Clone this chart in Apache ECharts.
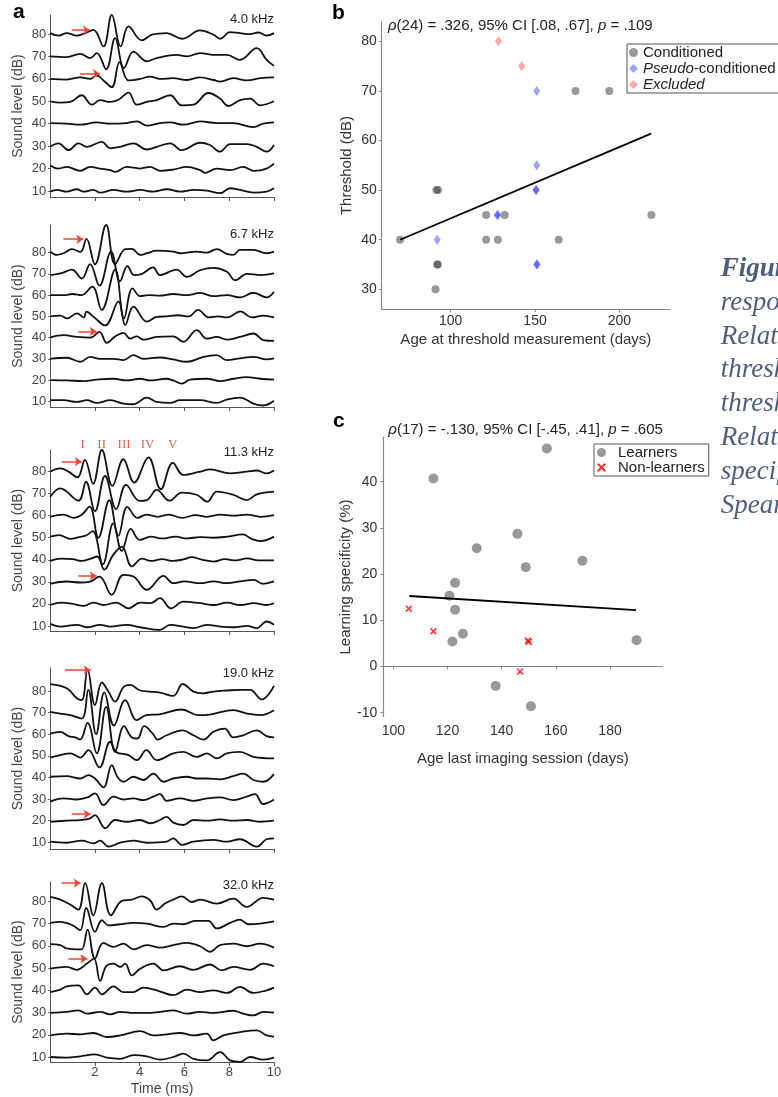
<!DOCTYPE html>
<html><head><meta charset="utf-8">
<script src="https://cdn.jsdelivr.net/npm/echarts@6/dist/echarts.min.js"></script>
<style>html,body{margin:0;padding:0;background:#fff;overflow:hidden}#c{width:778px;height:1097px}</style>
</head><body><div id="c"></div>
<script>
// ---------- Panel a data ----------
const levels = [80, 70, 60, 50, 40, 30, 20, 10];
const levelTicks = [10, 20, 30, 40, 50, 60, 70, 80];
const timeTicks = [2, 4, 6, 8, 10];
const freqLabels = ['4.0 kHz', '6.7 kHz', '11.3 kHz', '19.0 kHz', '32.0 kHz'];
// each trace: [time ms, deviation dB from its level]
const abr4k = [
 [[0,0.4],[0.37,-0.7],[0.74,0.4],[1.19,-0.7],[1.56,0.4],[1.93,1.9],[2.38,-5.5],[2.75,8.6],[3.15,-5.5],[3.5,3.4],[4.09,-2.8],[4.55,-0.3],[5.2,0.4],[5.9,-2.1],[6.7,1.6],[7.3,-0.3],[7.6,-2.1],[8.03,0.9],[8.48,0.4],[8.93,0],[9.3,0.7],[9.67,-0.7],[10,0.4]],
 [[0,0],[0.74,-0.3],[1.34,1.2],[1.79,-0.7],[2.08,1.5],[2.5,-5.7],[2.9,8.2],[3.3,-5.2],[3.72,2.2],[4.32,-2.2],[4.76,-0.7],[5.65,0.7],[6.1,0],[6.7,1.5],[7.3,0.7],[7.89,0.7],[8.48,-1.5],[9.23,3.7],[9.67,-1.5],[10,-4.2]],
 [[0,0],[0.74,-0.3],[1.34,0.7],[1.79,0],[2.08,1.5],[2.38,-0.7],[2.75,-3.7],[3.1,7.5],[3.5,-0.7],[4.02,0],[4.46,1],[4.91,0],[5.5,0.3],[6.1,-0.5],[6.7,0.7],[7.3,-0.5],[7.6,-1.2],[8.18,0.3],[8.78,-0.7],[9.38,0.3],[10,0.7]],
 [[0,0],[0.45,-0.6],[0.89,-0.3],[1.41,2.7],[1.86,-1.5],[2.23,0.5],[2.68,-0.3],[3.05,0.7],[3.5,3.9],[3.87,-1.5],[4.32,-0.3],[4.76,0.5],[5.36,2.7],[5.88,-1.8],[6.4,-1.5],[7.07,3.7],[7.59,1.2],[7.96,-2.1],[8.48,0.5],[8.93,1.2],[9.38,-1.8],[10,0]],
 [[0,0.3],[0.74,0],[1.34,-0.45],[2.08,0.6],[2.68,0],[3.42,0.3],[3.87,1],[4.32,-0.9],[4.91,0.3],[5.36,0.6],[5.95,-0.45],[6.7,1],[7.44,0.3],[8.18,0.3],[9.08,-1.5],[9.52,0],[10,0.6]],
 [[0,-0.3],[0.37,1.2],[0.82,-1.8],[1.26,1.2],[1.64,-0.3],[2.31,1.9],[2.68,-1],[3.13,-0.3],[3.72,1.2],[4.32,-1.5],[4.76,-0.3],[5.36,1.2],[5.88,-1.8],[6.7,1.5],[7.14,0.5],[7.59,-2.5],[8.04,0.9],[8.78,0.9],[9.23,-0.3],[9.67,-2.5],[10,0.5]],
 [[0,1.5],[0.37,0],[0.74,0.7],[1.34,-1],[1.79,0.7],[2.23,0],[2.68,-0.7],[2.9,-1.5],[3.42,0.7],[4.02,0],[4.46,0.7],[4.91,-1],[5.5,-0.45],[6.1,0.7],[6.7,-0.7],[6.92,-1.9],[7.44,0],[8.04,-0.7],[8.63,0.7],[9.08,-1],[9.67,0],[10,2.2]],
 [[0,-0.3],[0.3,0.45],[0.74,-0.3],[1.19,0.75],[1.49,-0.3],[1.93,0.45],[2.23,-0.75],[2.83,0.45],[3.42,-0.3],[4.02,0.45],[4.61,-0.3],[5.21,0.75],[5.8,-0.3],[6.4,0.45],[7.0,0.15],[7.59,-1],[8.04,1.2],[8.48,0.45],[9.08,-0.75],[9.67,-0.3],[10,1.2]]
];
const abr6k = [
 [[0,0.5],[0.3,-1.1],[0.6,-0.3],[0.97,1.6],[1.35,0.3],[1.62,6.5],[2.0,-5.5],[2.5,13],[2.9,-5.5],[3.35,1.6],[3.65,1.8],[4.02,-1.1],[4.32,-0.3],[4.76,0.9],[5.5,0.5],[5.8,-0.3],[6.55,0.5],[6.99,0],[7.44,1.6],[7.89,-0.6],[8.18,-1.1],[8.48,1.3],[9.08,1.3],[9.67,-0.3],[10,0.5]],
 [[0,-0.6],[0.55,0.5],[0.97,2],[1.41,-2.2],[1.78,4.6],[2.2,-5.5],[2.72,10.5],[3.12,-3.5],[3.45,3.6],[3.75,-0.6],[4.1,0],[4.6,3],[4.9,-0.6],[5.65,2],[6.1,-1.4],[6.7,1.7],[7.3,2.8],[7.9,1],[8.26,-3],[8.8,0],[9.4,-0.6],[10,0.2]],
 [[0,0],[0.6,0],[1.0,0.5],[1.4,0],[1.88,4],[2.3,-7],[2.9,12],[3.3,-11],[3.68,3.2],[4.02,-0.5],[4.4,0],[4.9,-0.3],[5.5,0.5],[6.1,0],[6.7,1],[7.3,-0.5],[7.9,0],[8.5,-1.1],[9.08,1.1],[9.67,-1.1],[10,1.6]],
 [[0,0],[0.45,0.3],[0.75,-1],[1.2,1.4],[1.5,-0.5],[1.62,2.2],[1.95,-0.3],[2.45,-4.3],[3.05,6.9],[3.35,-4.1],[3.72,4.6],[4.32,-2.5],[4.76,-0.3],[5.2,0],[5.7,0.5],[6.2,0],[6.6,3],[7.1,-0.5],[7.5,0],[7.9,-0.5],[8.5,2.3],[9.0,-0.5],[9.5,0.3],[10,-0.5]],
 [[0,0],[0.6,1.1],[1.2,0.3],[1.8,0],[2.2,2.7],[2.53,-2.5],[2.9,0.5],[3.27,2.2],[3.57,-0.5],[3.87,0.6],[4.17,-1],[4.76,0.3],[5.5,0.6],[5.95,-2],[6.55,3.5],[7.0,-0.5],[7.44,0.3],[7.89,-1],[8.48,0.3],[9.08,1.9],[9.52,-1.2],[10,-1.6]],
 [[0,0],[0.74,0.5],[1.34,-1.4],[1.79,0.9],[2.23,0],[2.83,0],[3.27,-0.6],[3.72,1.7],[4.17,0],[4.91,0.6],[5.5,-0.3],[6.1,-1.4],[6.85,0.9],[7.44,1.7],[7.89,-0.6],[8.48,0.2],[9.08,0.9],[9.67,-0.3],[10,0.2]],
 [[0,0],[0.74,-0.2],[1.49,-0.5],[2.08,0.2],[2.83,0.6],[3.42,-0.2],[4.02,0.6],[4.46,-0.2],[5.2,0.6],[5.5,-0.2],[5.88,-1.7],[6.25,0.2],[7.0,0.6],[7.59,-0.5],[8.18,0.6],[8.78,1.4],[9.38,0.6],[10,0.2]],
 [[0,0.5],[0.6,0.5],[1.19,-0.3],[1.64,0.5],[2.08,-0.8],[2.68,0.5],[3.27,-1.1],[3.72,-1.4],[4.32,1.7],[4.76,-0.3],[5.36,-0.8],[5.8,0.5],[6.7,0.5],[7.44,-0.8],[7.89,0.8],[8.48,1.7],[9.08,-1.1],[9.52,-2],[10,0.2]]
];
const abr11k = [
 [[0,0],[0.45,1.5],[0.82,0],[1.22,-2.6],[1.55,5.3],[1.92,-5.5],[2.31,9.8],[2.78,-6.5],[3.27,5.6],[3.75,-5],[4.39,6.5],[4.94,-8],[5.48,4],[5.95,-1.5],[6.7,0],[7.14,1],[8.04,-0.8],[8.78,0],[9.23,0.5],[9.67,-0.8],[10,0.5]],
 [[0,-1.4],[0.45,2.4],[1.26,-3.2],[1.6,5.4],[2.0,-8],[2.45,8],[2.95,-7],[3.39,4],[3.99,-3.3],[4.32,-2.9],[4.76,1.7],[5.33,-3.2],[5.88,0.5],[6.55,-0.5],[7.02,-3.6],[7.44,0.9],[8.18,-0.5],[8.78,-2.9],[9.23,-0.3],[10,0.9]],
 [[0,-0.5],[0.6,0.5],[1.05,-1],[1.4,0.3],[1.76,4.1],[2.15,-10],[2.64,7],[3.05,-9],[3.45,4],[3.9,-1],[4.3,0.5],[4.8,-0.5],[5.3,0.5],[5.9,-1],[6.5,0.3],[7.0,-0.5],[7.6,0.5],[8.2,0],[8.8,0.5],[9.4,-0.5],[10,0.3]],
 [[0,0.5],[0.4,1.2],[0.9,-0.5],[1.3,0.3],[1.6,1],[1.9,3],[2.35,-12],[2.82,6.5],[3.2,-6],[3.6,4],[4.0,-1],[4.5,0.5],[5.0,-0.3],[5.6,0.5],[6.1,-0.3],[6.7,0.3],[7.3,0],[7.9,0.5],[8.6,1.5],[9.0,-0.5],[9.4,-1.5],[10,0.5]],
 [[0,-0.5],[0.5,0.5],[1.0,0.3],[1.4,-0.5],[1.8,0.5],[2.1,1.5],[2.42,-4.5],[2.8,2],[3.2,6],[3.65,-3],[4.1,0.5],[4.5,-0.5],[5.0,0.3],[5.5,-0.5],[6.0,0.3],[6.3,1.2],[6.8,0],[7.3,-0.8],[7.8,0.3],[8.3,-0.3],[8.8,0.6],[9.3,-0.3],[10,-0.3]],
 [[0,-0.9],[0.74,0.15],[1.34,-0.3],[1.79,0.15],[2.2,2.4],[2.75,-5.9],[3.27,3.2],[3.72,2.4],[4.32,-3.6],[5.06,2.7],[5.5,-0.6],[6.0,0.2],[6.7,-0.6],[7.3,0.2],[7.9,-0.6],[8.5,0.2],[9.1,0.9],[9.5,-0.9],[10,0.2]],
 [[0,-0.5],[0.5,0.6],[1.0,0],[1.49,-0.9],[1.93,0.6],[2.38,-0.5],[2.96,0.6],[3.5,-2],[4.02,0.6],[4.5,0.3],[4.9,2.6],[5.4,-2],[5.95,1],[6.7,0.3],[7.3,-0.5],[7.9,0.6],[8.5,-0.5],[9.1,0.3],[9.67,-0.5],[10,0.3]],
 [[0,0.9],[0.45,-0.3],[1.2,0.5],[1.64,-0.6],[2.23,0.5],[2.68,-0.3],[3.42,0.5],[4.02,-0.6],[4.9,-1.8],[5.36,0.5],[5.95,-0.3],[6.4,-1],[7.0,0.5],[7.6,-0.3],[8.2,-0.6],[8.8,0],[9.23,-1],[9.67,2],[10,0.5]]
];
const abr19k = [
 [[0,3.1],[0.74,1.2],[1.19,-3.4],[1.41,-4.2],[1.67,10],[2.0,-6.5],[2.31,3.9],[2.6,-0.3],[2.9,-4.9],[3.27,1.7],[3.57,2.8],[4.02,0.2],[4.46,-0.3],[4.91,-0.8],[5.5,-2.3],[5.92,3.2],[6.4,-0.3],[6.85,-1.1],[7.29,-0.3],[7.89,0.2],[8.48,0.5],[8.93,0.5],[9.45,-3.9],[10,2.3]],
 [[0,0.3],[0.45,-0.5],[0.9,-1.2],[1.41,-2.8],[1.7,10.5],[2.05,-10],[2.42,9.3],[2.85,-6],[3.35,5.7],[3.87,-3.5],[4.3,-1.2],[4.9,-0.8],[5.88,1.4],[6.6,-1.2],[7.2,-0.8],[8.18,1.1],[8.8,-0.5],[9.4,-1.2],[10,1.1]],
 [[0,0.3],[0.45,1.1],[0.82,-0.9],[1.12,-1.5],[1.34,-2.5],[1.67,5.2],[2.08,-8.9],[2.5,12.6],[2.9,-8.2],[3.3,3.7],[3.65,-1.5],[3.9,-2],[4.2,3.7],[4.6,0],[4.8,-2.5],[5.2,-0.5],[5.92,1.8],[6.4,-0.5],[6.85,-2.5],[7.29,1.1],[7.8,2.6],[8.18,-1.5],[8.63,-0.5],[9.23,1.8],[9.67,-0.9],[10,-1.5]],
 [[0,-0.8],[0.45,0.3],[0.9,1.1],[1.34,-0.8],[1.71,2.6],[2.2,-5.4],[2.68,6.5],[2.95,1.8],[3.5,0.3],[3.87,-2],[4.3,2.6],[4.76,-2],[5.5,1.1],[5.95,1.8],[6.55,-0.5],[7.0,1.1],[7.44,-1.2],[7.89,1.1],[8.48,1.8],[9.08,-0.5],[10,-1.2]],
 [[0,0.3],[0.74,0.6],[1.34,-0.5],[1.71,1.1],[2.0,-0.5],[2.38,-4.6],[2.75,5.7],[3.0,0.3],[3.27,-2],[3.72,0.3],[4.17,-1.2],[4.61,1.8],[5.06,-2],[5.5,-0.5],[6.1,0.3],[6.55,-0.5],[7.0,-0.5],[7.59,-0.9],[8.18,0.6],[8.63,1.8],[9.08,-1.2],[9.52,-2],[10,1.5]],
 [[0,-1.2],[0.6,0.3],[1.19,-0.2],[1.67,0.8],[2.0,2.6],[2.38,-2.8],[2.83,1.1],[3.27,-0.2],[3.72,0.3],[4.17,-0.5],[4.6,1.1],[4.91,2.3],[5.2,-0.8],[5.8,0.3],[6.4,-0.8],[7.0,0.3],[7.59,0.8],[8.18,-0.5],[8.78,1.1],[9.15,2.3],[9.52,-2.3],[10,-0.2]],
 [[0,-0.5],[0.74,0],[1.34,0.3],[1.79,1.1],[2.0,2.6],[2.46,-3.5],[2.9,0.3],[3.42,-0.5],[4.02,0.3],[4.46,-1.2],[4.91,0.3],[5.2,1.8],[5.5,-0.9],[5.95,-2],[6.4,0.3],[7.0,0],[7.59,0.6],[8.18,0],[8.78,0.3],[9.38,-0.5],[10,0]],
 [[0,0.3],[0.74,-0.2],[1.41,0.8],[1.93,-0.5],[2.23,0.8],[2.6,-2],[3.13,-0.2],[3.72,0.8],[4.32,-0.2],[5.2,0.3],[5.5,1.8],[5.88,-1.2],[6.4,0.3],[7.29,1.1],[7.89,0.3],[8.48,1.4],[9.23,-2],[9.67,1.4],[10,1.8]]
];
const abr32k = [
 [[0,2],[0.45,0.8],[0.89,-1.4],[1.26,-3.7],[1.56,8.2],[1.93,-6.3],[2.31,8.2],[2.71,-6.3],[3.2,0.2],[3.65,0.8],[4.09,2.2],[4.46,0.5],[4.76,-3.7],[5.13,-1],[5.5,0.8],[5.88,2.2],[6.32,-0.3],[6.7,0.8],[7.44,-1],[8.18,1.2],[8.78,-2.5],[9.52,1.6],[10,0.8]],
 [[0,0.3],[0.45,0.8],[0.89,-0.3],[1.12,-1.5],[1.34,-3],[1.61,7],[2.0,-3.7],[2.31,1.5],[2.6,-0.8],[3.13,-0.3],[3.72,0.3],[4.32,0],[5.06,-1.5],[5.5,0],[5.95,-0.3],[6.47,1.2],[7.07,1.2],[7.44,-2.2],[8.04,0.3],[8.48,1.8],[8.85,-0.3],[9.38,0],[10,1]],
 [[0,0.8],[0.45,0.3],[0.74,-1.2],[1.19,-1.6],[1.41,-1.6],[1.67,7.3],[2.0,-5.7],[2.38,1.3],[2.83,-0.5],[3.27,1],[3.72,-1.6],[4.32,0.3],[4.91,-0.8],[5.5,0.3],[6.1,1.3],[6.7,-0.2],[7.14,-2.7],[7.59,0.3],[8.18,1],[8.78,-0.2],[9.38,1],[10,-0.8]],
 [[0,-0.3],[0.74,0.5],[1.19,-0.8],[1.64,2],[1.95,4.2],[2.23,-5.8],[2.5,0.8],[2.83,2],[3.13,0.5],[3.35,2],[3.65,-3.3],[4.02,-0.3],[4.61,2],[5.06,-1],[5.8,0.8],[6.4,-0.8],[7.14,1.6],[7.66,-1],[8.18,0.5],[8.93,-0.8],[9.52,2],[10,0.8]],
 [[0,-0.8],[0.45,0.3],[0.74,1.8],[1.26,2.2],[1.64,-1.8],[2.0,1.2],[2.31,-1.8],[2.83,1.8],[3.27,-0.8],[3.72,-0.8],[4.17,1.2],[4.76,0],[5.5,-2.2],[6.1,0.3],[6.7,-0.8],[7.29,0],[7.89,-1.2],[8.48,1.5],[9.08,-1.2],[9.67,0],[10,1.2]],
 [[0,-0.2],[0.74,0.3],[1.26,1],[1.64,-0.5],[2.23,0.3],[2.68,-0.8],[3.13,0.3],[3.72,-0.2],[4.32,-0.2],[4.91,0.3],[5.5,1],[6.1,-0.5],[6.7,0.3],[7.29,-0.2],[8.18,0.8],[8.63,-0.5],[9.08,-1.3],[9.52,0.3],[10,0]],
 [[0,-0.3],[0.74,0.5],[1.34,0.2],[1.93,0.8],[2.53,-1],[3.13,-0.3],[4.02,1.6],[4.61,-0.3],[5.2,0.2],[5.8,0.8],[6.4,-0.3],[7.0,0.5],[7.29,-2.5],[7.74,-0.3],[8.48,1.2],[9.23,2],[9.67,-0.3],[10,-0.8]],
 [[0,0],[0.74,-0.3],[1.34,0.3],[2.0,1.2],[2.53,-0.3],[3.13,-0.8],[3.72,0.8],[4.32,0.3],[4.91,-1.2],[5.5,0],[5.95,1.5],[6.4,-0.8],[7.0,-1.5],[7.59,2.2],[8.04,-1.5],[8.48,-2.2],[8.93,0],[9.52,-1.2],[10,-0.3]]
];
// arrows: [start time, tip time, level dB]
const arrows4k = [[0.96, 1.78, 81.7], [1.33, 2.22, 62.3]];
const arrows6k = [[0.59, 1.48, 86.3], [1.26, 2.08, 42.9]];
const arrows11k = [[0.51, 1.41, 84.5], [1.26, 2.08, 32.7]];
const arrows19k = [[0.66, 1.81, 89.7], [0.96, 1.81, 23.0]];
const arrows32k = [[0.51, 1.36, 88.2], [0.81, 1.66, 54.2]];
const waveNames = ['I', 'II', 'III', 'IV', 'V'];
const waveTimes = [1.45, 2.3, 3.3, 4.35, 5.47];
const waveLabelLevel = 92.2;

// ---------- Panel b data ----------
const condAge = [70, 91.5, 92.5, 92, 92.3, 91, 121, 121, 128, 132, 164, 174, 194, 219];
const condThr = [40, 50, 50, 35, 35, 30, 45, 40, 40, 45, 40, 70, 70, 45];
const pseudoAge = [92, 127.5, 128, 151, 151, 150.5, 150.7, 151, 151.2];
const pseudoThr = [40, 45, 45, 70, 55, 50, 50, 35, 35];
const exclAge = [128.3, 142.1];
const exclThr = [80, 75];
const fitBAge = [70, 218.8];
const fitBThr = [40, 61.4];
const bXTicks = [100, 150, 200];
const bYTicks = [30, 40, 50, 60, 70, 80];

// ---------- Panel c data ----------
const learnAge = [114.8, 156.7, 145.8, 130.8, 169.8, 148.9, 122.8, 120.7, 122.8, 125.7, 121.8, 189.8, 137.8, 150.8];
const learnSpec = [40.7, 47.2, 28.7, 25.6, 22.9, 21.5, 18.1, 15.3, 12.3, 7.1, 5.4, 5.7, -4.2, -8.6];
const nonAge = [105.7, 114.8, 149.7, 150, 146.8];
const nonSpec = [12.5, 7.6, 5.6, 5.3, -1.1];
const fitCAge = [105.9, 189.6];
const fitCSpec = [15.25, 12.2];
const cXTicks = [100, 120, 140, 160, 180];
const cYTicks = [-10, 0, 10, 20, 30, 40];

const captionWords = ['Figure', 'responses', 'Relationship', 'threshold', 'threshold', 'Relationship', 'specificity', 'Spearman'];

// ---------- build chart ----------
const FONT = '"Liberation Sans", Arial, sans-serif';
const chart = echarts.init(document.getElementById('c'), null, {renderer: 'canvas', width: 778, height: 1097});
const aGrids = [
  {top: 15, height: 182, min: 7.3, max: 88.5},
  {top: 225, height: 182, min: 7.3, max: 93},
  {top: 450, height: 181, min: 7.7, max: 89.8},
  {top: 668, height: 181, min: 6.9, max: 90.6},
  {top: 882, height: 180, min: 7.75, max: 88.7}
];
const panels = [abr4k, abr6k, abr11k, abr19k, abr32k];
const arrowSets = [arrows4k, arrows6k, arrows11k, arrows19k, arrows32k];

const grid = [], xAxis = [], yAxis = [], series = [], title = [];
aGrids.forEach((g, i) => {
  grid.push({left: 50.2, top: g.top, width: 223.8, height: g.height});
  const last = i === aGrids.length - 1;
  xAxis.push({
    type: 'value', gridIndex: i, min: 0, max: 10,
    axisLine: {show: true, lineStyle: {color: '#555', width: 1}},
    axisTick: {show: true, length: 4, customValues: timeTicks, lineStyle: {color: '#555'}},
    axisLabel: {show: last, customValues: timeTicks, fontSize: 13, color: '#444', fontFamily: FONT, margin: 4},
    splitLine: {show: false},
    name: last ? 'Time (ms)' : '', nameLocation: 'middle', nameGap: 20,
    nameTextStyle: {fontSize: 14, color: '#444', fontFamily: FONT}
  });
  yAxis.push({
    type: 'value', gridIndex: i, min: g.min, max: g.max,
    axisLine: {show: true, lineStyle: {color: '#555', width: 1}},
    axisTick: {show: true, length: 2, customValues: levelTicks, lineStyle: {color: '#555'}},
    axisLabel: {customValues: levelTicks, fontSize: 13, color: '#444', fontFamily: FONT, margin: 4},
    splitLine: {show: false},
    name: 'Sound level (dB)', nameLocation: 'middle', nameGap: 25,
    nameTextStyle: {fontSize: 14, color: '#444', fontFamily: FONT}
  });
  panels[i].forEach((tr, li) => {
    series.push({
      type: 'line', xAxisIndex: i, yAxisIndex: i,
      data: tr.map(p => [p[0], levels[li] + p[1]]),
      smooth: 0.4, symbol: 'none', clip: false, silent: true,
      lineStyle: {color: '#111', width: 1.8}, z: 2
    });
  });
  series.push({
    type: 'lines', coordinateSystem: 'cartesian2d', xAxisIndex: i, yAxisIndex: i,
    data: arrowSets[i].map(a => ({coords: [[a[0], a[2]], [a[1], a[2]]]})),
    symbol: ['none', 'arrow'], symbolSize: 7, clip: false, silent: true,
    lineStyle: {color: '#ee4433', width: 1.5, opacity: 1}, z: 5
  });
  title.push({
    text: freqLabels[i], right: 504, top: [13, 228, 446, 667, 879][i], padding: 0,
    textStyle: {fontSize: 13, fontWeight: 'normal', color: '#222', fontFamily: FONT}
  });
});
// roman numerals
series.push({
  type: 'scatter', xAxisIndex: 2, yAxisIndex: 2, clip: false, silent: true,
  symbolSize: 0,
  data: waveNames.map((n, k) => ({name: n, value: [waveTimes[k], waveLabelLevel]})),
  label: {show: true, position: 'inside', formatter: p => p.name, color: '#ee3322',
          fontFamily: '"Liberation Serif", "DejaVu Serif", serif', fontSize: 13}
});

// panel b & c grids
grid.push({left: 381.7, top: 21.7, width: 288.3, height: 287.6});
grid.push({left: 383.3, top: 437.3, width: 279, height: 279.4});
const sideAxis = (gi, min, max, ticks, name, gap, margin) => ({
  type: 'value', gridIndex: gi, min, max,
  axisLine: {show: true, lineStyle: {color: '#888', width: 1.2}},
  axisTick: {show: true, length: 3, customValues: ticks, lineStyle: {color: '#888'}},
  axisLabel: {customValues: ticks, fontSize: 14, color: '#333', fontFamily: FONT, margin},
  splitLine: {show: false},
  name, nameLocation: 'middle', nameGap: gap,
  nameTextStyle: {fontSize: 15, color: '#333', fontFamily: FONT}
});
xAxis.push(sideAxis(5, 59.1, 230, bXTicks, 'Age at threshold measurement (days)', 23, 5));
yAxis.push(sideAxis(5, 25.97, 83.95, bYTicks, 'Threshold (dB)', 27, 5));
xAxis.push(sideAxis(6, 96.3, 199.3, cXTicks, 'Age last imaging session (days)', 35, 7));
yAxis.push(sideAxis(6, -10.87, 49.6, cYTicks, 'Learning specificity (%)', 29, 6));

const grayDot = 'rgba(60,60,60,0.65)';
series.push({name: 'Conditioned', type: 'scatter', xAxisIndex: 5, yAxisIndex: 5, symbol: 'circle', symbolSize: 8,
  itemStyle: {color: grayDot}, data: condAge.map((a, k) => [a, condThr[k]]), z: 3});
series.push({name: 'Pseudo-conditioned', type: 'scatter', xAxisIndex: 5, yAxisIndex: 5, symbol: 'diamond', symbolSize: [7, 10],
  itemStyle: {color: 'rgba(20,20,255,0.5)'}, data: pseudoAge.map((a, k) => [a, pseudoThr[k]]), z: 4});
series.push({name: 'Excluded', type: 'scatter', xAxisIndex: 5, yAxisIndex: 5, symbol: 'diamond', symbolSize: [7, 10],
  itemStyle: {color: 'rgba(235,60,60,0.55)'}, data: exclAge.map((a, k) => [a, exclThr[k]]), z: 4});
series.push({type: 'line', xAxisIndex: 5, yAxisIndex: 5, symbol: 'none', silent: true,
  lineStyle: {color: '#000', width: 1.8}, data: fitBAge.map((a, k) => [a, fitBThr[k]]), z: 5});

const xPath = 'path://M0,1.6 L1.6,0 L5,3.4 L8.4,0 L10,1.6 L6.6,5 L10,8.4 L8.4,10 L5,6.6 L1.6,10 L0,8.4 L3.4,5 Z';
series.push({name: 'Learners', type: 'scatter', xAxisIndex: 6, yAxisIndex: 6, symbol: 'circle', symbolSize: 10,
  itemStyle: {color: grayDot}, data: learnAge.map((a, k) => [a, learnSpec[k]]), z: 3});
series.push({name: 'Non-learners', type: 'scatter', xAxisIndex: 6, yAxisIndex: 6, symbol: xPath, symbolSize: 7,
  itemStyle: {color: '#ff0000'}, data: nonAge.map((a, k) => [a, nonSpec[k]]), z: 4});
series.push({type: 'line', xAxisIndex: 6, yAxisIndex: 6, symbol: 'none', silent: true,
  lineStyle: {color: '#000', width: 1.8}, data: fitCAge.map((a, k) => [a, fitCSpec[k]]), z: 5});

const rich = {i: {fontStyle: 'italic', fontSize: 15, color: '#222', fontFamily: FONT}};
title.push({text: '{i|ρ}(24) = .326, 95% CI [.08, .67], {i|p} = .109', left: 388, top: 18, padding: 0,
  textStyle: {fontSize: 15, fontWeight: 'normal', color: '#222', fontFamily: FONT, rich}});
title.push({text: '{i|ρ}(17) = -.130, 95% CI [-.45, .41], {i|p} = .605', left: 388.3, top: 422, padding: 0,
  textStyle: {fontSize: 15, fontWeight: 'normal', color: '#222', fontFamily: FONT, rich}});
const letter = (t, l, tp) => ({text: t, left: l, top: tp, padding: 0,
  textStyle: {fontSize: 21, fontWeight: 'bold', color: '#000', fontFamily: FONT}});
title.push(letter('a', 13, 2), letter('b', 332, 3), letter('c', 333, 411));

const legendBase = {
  orient: 'vertical', backgroundColor: '#fff', borderColor: '#555', borderWidth: 1,
  itemWidth: 9, itemHeight: 9, itemGap: 1, selectedMode: false,
  textStyle: {fontSize: 15, color: '#222', fontFamily: FONT, lineHeight: 15,
    rich: {i: {fontStyle: 'italic', fontSize: 15, color: '#222', fontFamily: FONT, lineHeight: 15}}}
};
const legend = [
  Object.assign({}, legendBase, {left: 627, top: 44, padding: [1, 60, 1, 2],
    data: ['Conditioned', 'Pseudo-conditioned', 'Excluded'],
    formatter: n => n === 'Pseudo-conditioned' ? '{i|Pseudo}-conditioned' : (n === 'Excluded' ? '{i|Excluded}' : n)}),
  Object.assign({}, legendBase, {left: 594, top: 444, padding: [1, 4, 1, 3], itemGap: 0,
    data: ['Learners', 'Non-learners'],
    textStyle: Object.assign({}, legendBase.textStyle, {lineHeight: 14.4, padding: [0, 0, 0, 7]})})
];

const graphic = captionWords.map((w, k) => ({
  type: 'text', x: 720.7, y: 269 + k * 33.8,
  style: {text: w, fill: '#4f5e7d', textVerticalAlign: 'middle',
    font: (k === 0 ? 'italic bold ' : 'italic ') + '27px "Liberation Serif", serif'}
}));

chart.setOption({animation: false, backgroundColor: '#fff', grid, xAxis, yAxis, series, title, legend, graphic});
</script></body></html>
